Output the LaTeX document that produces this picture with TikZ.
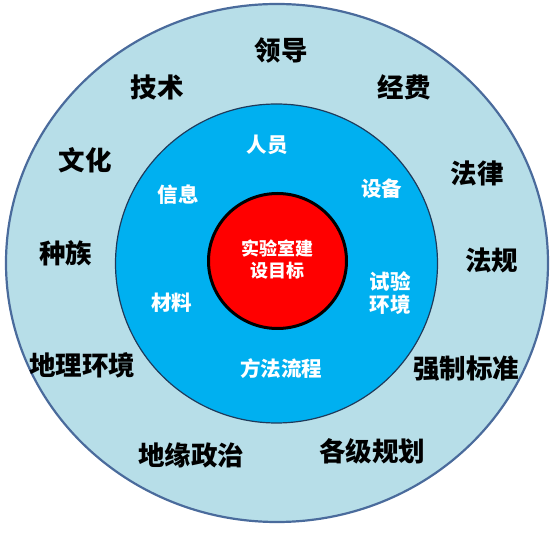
\documentclass[tikz,border=0pt]{standalone}
\usepackage{fontspec}
\newfontfamily\cjk{Noto Sans CJK SC}
\definecolor{outerfill}{HTML}{B7DEE8}
\definecolor{outerline}{HTML}{4A6B9C}
\definecolor{midfill}{HTML}{00B0F0}
\definecolor{midline}{HTML}{1F3A5A}
\tikzset{
  outertxt/.style={font=\cjk\bfseries\fontsize{26.5}{28}\selectfont, text=black, inner sep=0pt, anchor=center},
  innertxt/.style={font=\cjk\bfseries\fontsize{20.5}{22.3}\selectfont, text=white, inner sep=0pt, anchor=center, align=center},
  coretxt/.style={font=\cjk\bfseries\fontsize{18}{22.7}\selectfont, text=white, inner sep=0pt, anchor=center, align=center}
}
\begin{document}
\begin{tikzpicture}[x=1pt,y=1pt]
\useasboundingbox (0,0) rectangle (557,533);
% outer ring
\filldraw[fill=outerfill, draw=outerline, line width=2.2pt] (277,270) ellipse [x radius=271, y radius=259];
% middle ring
\filldraw[fill=midfill, draw=midline, line width=1.2pt] (276.5,269.5) ellipse [x radius=161, y radius=159.5];
% core
\filldraw[fill=red, draw=black, line width=3pt] (277.5,272) ellipse [x radius=69, y radius=67.5];
% outer labels
\node[outertxt] (lingdao) at (281,482) {领导};
\node[outertxt] (jishu) at (157,445.5) {技术};
\node[outertxt] (jingfei) at (404,445.5) {经费};
\node[outertxt] (wenhua) at (85,373) {文化};
\node[outertxt] (falv) at (477,359.5) {法律};
\node[outertxt] (zhongzu) at (65.5,279.5) {种族};
\node[outertxt] (fagui) at (491.5,273) {法规};
\node[outertxt] (dili) at (82,168) {地理环境};
\node[outertxt] (qiangzhi) at (466,164) {强制标准};
\node[outertxt] (diyuan) at (191,78) {地缘政治};
\node[outertxt] (geji) at (372,82) {各级规划};
% inner labels
\node[innertxt] (renyuan) at (267,388) {人员};
\node[innertxt] (xinxi) at (178,338) {信息};
\node[innertxt] (shebei) at (381.5,344) {设备};
\node[innertxt] (cailiao) at (171.5,230.5) {材料};
\node[innertxt] (shiyan) at (390,240) {试验\\环境};
\node[innertxt] (fangfa) at (281,164) {方法流程};
% core label
\node[coretxt] (core) at (277,273.5) {实验室建\\设目标};
\end{tikzpicture}
\end{document}
